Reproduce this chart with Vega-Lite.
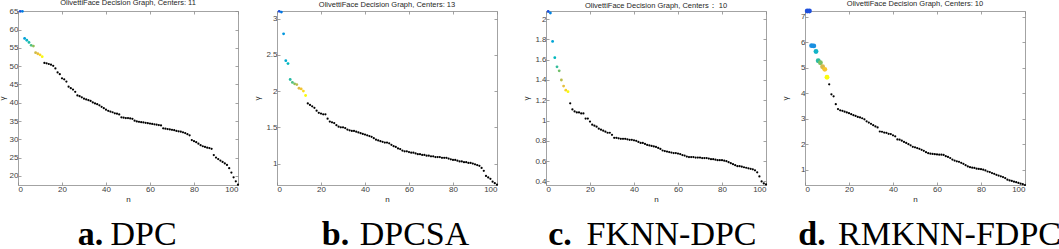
{
"$schema":"https://vega.github.io/schema/vega-lite/v6.json",
"padding":{"left":-2,"top":-2,"right":0,"bottom":0},
"background":"white",
"datasets":{
"a":[{"n":1,"g":65.0,"c":1},{"n":2,"g":65.0,"c":2},{"n":3,"g":57.6,"c":3},{"n":4,"g":57.1,"c":4},{"n":5,"g":56.5,"c":5},{"n":6,"g":55.7,"c":6},{"n":7,"g":55.5,"c":7},{"n":8,"g":53.7,"c":8},{"n":9,"g":53.4,"c":9},{"n":10,"g":53.1,"c":10},{"n":11,"g":52.6,"c":11},
{"n":12,"g":50.9},{"n":13,"g":50.8},{"n":14,"g":50.6},{"n":15,"g":50.4},{"n":16,"g":50.1},{"n":17,"g":49.4},{"n":18,"g":48.3},{"n":19,"g":47.8},{"n":20,"g":46.7},
{"n":21,"g":46.4},{"n":22,"g":45.8},{"n":23,"g":44.4},{"n":24,"g":44.0},{"n":25,"g":43.6},{"n":26,"g":43.0},{"n":27,"g":42.0},{"n":28,"g":41.8},{"n":29,"g":41.5},{"n":30,"g":41.1},
{"n":31,"g":40.9},{"n":32,"g":40.7},{"n":33,"g":40.5},{"n":34,"g":40.1},{"n":35,"g":39.8},{"n":36,"g":39.6},{"n":37,"g":39.3},{"n":38,"g":38.9},{"n":39,"g":38.5},{"n":40,"g":38.1},
{"n":41,"g":37.8},{"n":42,"g":37.6},{"n":43,"g":37.4},{"n":44,"g":37.1},{"n":45,"g":37.0},{"n":46,"g":36.8},{"n":47,"g":36.0},{"n":48,"g":35.9},{"n":49,"g":35.8},{"n":50,"g":35.8},
{"n":51,"g":35.7},{"n":52,"g":35.6},{"n":53,"g":35.1},{"n":54,"g":34.9},{"n":55,"g":34.8},{"n":56,"g":34.7},{"n":57,"g":34.6},{"n":58,"g":34.5},{"n":59,"g":34.4},{"n":60,"g":34.3},
{"n":61,"g":34.2},{"n":62,"g":34.1},{"n":63,"g":34.0},{"n":64,"g":33.9},{"n":65,"g":33.8},{"n":66,"g":33.0},{"n":67,"g":32.9},{"n":68,"g":32.8},{"n":69,"g":32.7},{"n":70,"g":32.6},
{"n":71,"g":32.5},{"n":72,"g":32.3},{"n":73,"g":32.2},{"n":74,"g":32.1},{"n":75,"g":31.9},{"n":76,"g":31.7},{"n":77,"g":31.4},{"n":78,"g":31.1},{"n":79,"g":29.8},{"n":80,"g":29.5},
{"n":81,"g":29.2},{"n":82,"g":28.8},{"n":83,"g":28.4},{"n":84,"g":28.1},{"n":85,"g":27.9},{"n":86,"g":27.7},{"n":87,"g":27.6},{"n":88,"g":27.4},{"n":89,"g":25.7},{"n":90,"g":25.0},
{"n":91,"g":24.6},{"n":92,"g":24.2},{"n":93,"g":23.8},{"n":94,"g":23.4},{"n":95,"g":23.0},{"n":96,"g":22.1},{"n":97,"g":20.9},{"n":98,"g":19.6},{"n":99,"g":18.5},{"n":100,"g":17.6}],
"b":[{"n":1,"g":3.10,"c":1},{"n":2,"g":3.09,"c":2},{"n":3,"g":2.79,"c":3},{"n":4,"g":2.42,"c":4},{"n":5,"g":2.38,"c":5},{"n":6,"g":2.16,"c":6},{"n":7,"g":2.12,"c":7},{"n":8,"g":2.10,"c":8},{"n":9,"g":2.09,"c":9},{"n":10,"g":2.04,"c":10},{"n":11,"g":2.03,"c":11},{"n":12,"g":2.00,"c":12},{"n":13,"g":1.94,"c":13},
{"n":14,"g":1.83},{"n":15,"g":1.81},{"n":16,"g":1.79},{"n":17,"g":1.77},{"n":18,"g":1.73},{"n":19,"g":1.70},{"n":20,"g":1.69},
{"n":21,"g":1.68},{"n":22,"g":1.68},{"n":23,"g":1.62},{"n":24,"g":1.58},{"n":25,"g":1.57},{"n":26,"g":1.56},{"n":27,"g":1.53},{"n":28,"g":1.51},{"n":29,"g":1.50},{"n":30,"g":1.50},
{"n":31,"g":1.49},{"n":32,"g":1.47},{"n":33,"g":1.46},{"n":34,"g":1.45},{"n":35,"g":1.45},{"n":36,"g":1.44},{"n":37,"g":1.43},{"n":38,"g":1.42},{"n":39,"g":1.41},{"n":40,"g":1.40},
{"n":41,"g":1.39},{"n":42,"g":1.38},{"n":43,"g":1.37},{"n":44,"g":1.35},{"n":45,"g":1.33},{"n":46,"g":1.32},{"n":47,"g":1.31},{"n":48,"g":1.30},{"n":49,"g":1.29},{"n":50,"g":1.29},
{"n":51,"g":1.28},{"n":52,"g":1.26},{"n":53,"g":1.24},{"n":54,"g":1.23},{"n":55,"g":1.21},{"n":56,"g":1.20},{"n":57,"g":1.18},{"n":58,"g":1.17},{"n":59,"g":1.17},{"n":60,"g":1.16},
{"n":61,"g":1.15},{"n":62,"g":1.15},{"n":63,"g":1.14},{"n":64,"g":1.13},{"n":65,"g":1.13},{"n":66,"g":1.12},{"n":67,"g":1.12},{"n":68,"g":1.11},{"n":69,"g":1.11},{"n":70,"g":1.10},
{"n":71,"g":1.10},{"n":72,"g":1.09},{"n":73,"g":1.09},{"n":74,"g":1.09},{"n":75,"g":1.08},{"n":76,"g":1.08},{"n":77,"g":1.08},{"n":78,"g":1.07},{"n":79,"g":1.06},{"n":80,"g":1.05},
{"n":81,"g":1.05},{"n":82,"g":1.04},{"n":83,"g":1.03},{"n":84,"g":1.03},{"n":85,"g":1.02},{"n":86,"g":1.02},{"n":87,"g":1.01},{"n":88,"g":1.01},{"n":89,"g":1.00},{"n":90,"g":0.99},
{"n":91,"g":0.98},{"n":92,"g":0.97},{"n":93,"g":0.94},{"n":94,"g":0.90},{"n":95,"g":0.83},{"n":96,"g":0.81},{"n":97,"g":0.79},{"n":98,"g":0.75},{"n":99,"g":0.73},{"n":100,"g":0.71}],
"c":[{"n":1,"g":2.075,"c":1},{"n":2,"g":2.06,"c":2},{"n":3,"g":1.78,"c":3},{"n":4,"g":1.62,"c":4},{"n":5,"g":1.53,"c":5},{"n":6,"g":1.49,"c":6},{"n":7,"g":1.40,"c":7},{"n":8,"g":1.34,"c":8},{"n":9,"g":1.30,"c":9},{"n":10,"g":1.285,"c":10},
{"n":11,"g":1.17},{"n":12,"g":1.11},{"n":13,"g":1.09},{"n":14,"g":1.08},{"n":15,"g":1.08},{"n":16,"g":1.07},{"n":17,"g":1.07},{"n":18,"g":1.02},{"n":19,"g":1.02},{"n":20,"g":0.99},
{"n":21,"g":0.96},{"n":22,"g":0.95},{"n":23,"g":0.94},{"n":24,"g":0.92},{"n":25,"g":0.91},{"n":26,"g":0.90},{"n":27,"g":0.89},{"n":28,"g":0.88},{"n":29,"g":0.88},{"n":30,"g":0.86},
{"n":31,"g":0.83},{"n":32,"g":0.83},{"n":33,"g":0.825},{"n":34,"g":0.82},{"n":35,"g":0.82},{"n":36,"g":0.82},{"n":37,"g":0.815},{"n":38,"g":0.81},{"n":39,"g":0.81},{"n":40,"g":0.805},
{"n":41,"g":0.80},{"n":42,"g":0.79},{"n":43,"g":0.78},{"n":44,"g":0.78},{"n":45,"g":0.77},{"n":46,"g":0.76},{"n":47,"g":0.755},{"n":48,"g":0.75},{"n":49,"g":0.745},{"n":50,"g":0.74},
{"n":51,"g":0.73},{"n":52,"g":0.72},{"n":53,"g":0.705},{"n":54,"g":0.70},{"n":55,"g":0.695},{"n":56,"g":0.69},{"n":57,"g":0.685},{"n":58,"g":0.68},{"n":59,"g":0.68},{"n":60,"g":0.675},
{"n":61,"g":0.67},{"n":62,"g":0.66},{"n":63,"g":0.655},{"n":64,"g":0.645},{"n":65,"g":0.64},{"n":66,"g":0.64},{"n":67,"g":0.64},{"n":68,"g":0.635},{"n":69,"g":0.635},{"n":70,"g":0.635},
{"n":71,"g":0.63},{"n":72,"g":0.63},{"n":73,"g":0.63},{"n":74,"g":0.625},{"n":75,"g":0.62},{"n":76,"g":0.62},{"n":77,"g":0.615},{"n":78,"g":0.61},{"n":79,"g":0.61},{"n":80,"g":0.61},
{"n":81,"g":0.605},{"n":82,"g":0.60},{"n":83,"g":0.59},{"n":84,"g":0.58},{"n":85,"g":0.57},{"n":86,"g":0.56},{"n":87,"g":0.55},{"n":88,"g":0.55},{"n":89,"g":0.545},{"n":90,"g":0.54},
{"n":91,"g":0.535},{"n":92,"g":0.53},{"n":93,"g":0.525},{"n":94,"g":0.52},{"n":95,"g":0.51},{"n":96,"g":0.49},{"n":97,"g":0.45},{"n":98,"g":0.40},{"n":99,"g":0.38},{"n":100,"g":0.37}],
"d":[{"n":1,"g":7.23,"c":1},{"n":2,"g":7.23,"c":1},{"n":3,"g":5.87,"c":2},{"n":4,"g":5.86,"c":2},{"n":5,"g":5.64,"c":3},{"n":6,"g":5.28,"c":4},{"n":7,"g":5.20,"c":5},{"n":8,"g":5.04,"c":6},{"n":9,"g":4.94,"c":7},{"n":10,"g":4.63,"c":8},
{"n":11,"g":4.35},{"n":12,"g":3.96},{"n":13,"g":3.88},{"n":14,"g":3.57},{"n":15,"g":3.38},{"n":16,"g":3.33},{"n":17,"g":3.31},{"n":18,"g":3.28},{"n":19,"g":3.25},{"n":20,"g":3.22},
{"n":21,"g":3.18},{"n":22,"g":3.14},{"n":23,"g":3.11},{"n":24,"g":3.07},{"n":25,"g":3.05},{"n":26,"g":3.02},{"n":27,"g":2.98},{"n":28,"g":2.90},{"n":29,"g":2.85},{"n":30,"g":2.80},
{"n":31,"g":2.75},{"n":32,"g":2.70},{"n":33,"g":2.66},{"n":34,"g":2.50},{"n":35,"g":2.49},{"n":36,"g":2.46},{"n":37,"g":2.45},{"n":38,"g":2.41},{"n":39,"g":2.40},{"n":40,"g":2.35},
{"n":41,"g":2.31},{"n":42,"g":2.19},{"n":43,"g":2.18},{"n":44,"g":2.14},{"n":45,"g":2.09},{"n":46,"g":2.05},{"n":47,"g":2.00},{"n":48,"g":1.96},{"n":49,"g":1.90},{"n":50,"g":1.88},
{"n":51,"g":1.85},{"n":52,"g":1.82},{"n":53,"g":1.78},{"n":54,"g":1.74},{"n":55,"g":1.69},{"n":56,"g":1.65},{"n":57,"g":1.63},{"n":58,"g":1.62},{"n":59,"g":1.61},{"n":60,"g":1.60},
{"n":61,"g":1.59},{"n":62,"g":1.59},{"n":63,"g":1.58},{"n":64,"g":1.53},{"n":65,"g":1.50},{"n":66,"g":1.46},{"n":67,"g":1.40},{"n":68,"g":1.36},{"n":69,"g":1.33},{"n":70,"g":1.31},
{"n":71,"g":1.27},{"n":72,"g":1.23},{"n":73,"g":1.18},{"n":74,"g":1.13},{"n":75,"g":1.10},{"n":76,"g":1.08},{"n":77,"g":1.07},{"n":78,"g":1.04},{"n":79,"g":1.03},{"n":80,"g":1.02},
{"n":81,"g":1.00},{"n":82,"g":0.97},{"n":83,"g":0.93},{"n":84,"g":0.91},{"n":85,"g":0.87},{"n":86,"g":0.84},{"n":87,"g":0.80},{"n":88,"g":0.77},{"n":89,"g":0.74},{"n":90,"g":0.71},
{"n":91,"g":0.67},{"n":92,"g":0.61},{"n":93,"g":0.58},{"n":94,"g":0.56},{"n":95,"g":0.53},{"n":96,"g":0.51},{"n":97,"g":0.48},{"n":98,"g":0.45},{"n":99,"g":0.43},{"n":100,"g":0.40}]
},
"hconcat":[
{"hconcat":[
{"width":220,"height":174,"data":{"name":"a"},
 "title":{"text":"OlivettiFace Decision Graph, Centers: 11","frame":"group","offset":1,"font":"Liberation Sans","fontSize":7.5,"fontWeight":"normal","color":"#262626"},
 "layer":[
  {"transform":[{"filter":"datum.c == null"}],"mark":{"type":"circle","size":5,"color":"black","opacity":1},
   "encoding":{"x":{"field":"n","type":"quantitative","scale":{"domain":[0,100],"nice":false},"axis":{"values":[0,20,40,60,80,100],"title":"n","format":"d"}},
   "y":{"field":"g","type":"quantitative","scale":{"domain":[17.5,65.1],"nice":false,"zero":false},"axis":{"values":[20,25,30,35,40,45,50,55,60,65],"title":"γ","format":"d","minExtent":12,"titlePadding":0}}}},
  {"transform":[{"filter":"datum.c != null"}],"mark":{"type":"circle","size":8,"opacity":1},
   "encoding":{"x":{"field":"n","type":"quantitative","axis":{"orient":"top","labels":false,"values":[0,20,40,60,80,100],"title":"a.","titleX":72,"titleY":233,"titleAngle":0,"titleAlign":"center","titleBaseline":"alphabetic","titleFont":"Liberation Serif","titleFontSize":34,"titleFontWeight":"bold","titleColor":"black"}},
   "y":{"field":"g","type":"quantitative","axis":{"orient":"right","labels":false,"values":[20,25,30,35,40,45,50,55,60,65],"title":"DPC","titleX":-95,"titleY":233,"titleAngle":0,"titleAlign":"center","titleBaseline":"alphabetic","titleFont":"Liberation Serif","titleFontSize":34,"titleFontWeight":"normal","titleColor":"black"}},
   "color":{"field":"c","type":"quantitative","scale":{"domain":[1,11],"range":["#1e50dc","#1a8fe0","#12b4c8","#2bbba0","#7bc063","#d7b84a","#f8c52c","#f9fb0e"]},"legend":null}}}
 ],
 "resolve":{"axis":{"x":"independent","y":"independent"}}},
{"width":220,"height":174,"data":{"name":"b"},
 "title":{"text":"OlivettiFace Decision Graph, Centers: 13","frame":"group","offset":1,"font":"Liberation Sans","fontSize":7.5,"fontWeight":"normal","color":"#262626"},
 "layer":[
  {"transform":[{"filter":"datum.c == null"}],"mark":{"type":"circle","size":5,"color":"black","opacity":1},
   "encoding":{"x":{"field":"n","type":"quantitative","scale":{"domain":[0,100],"nice":false},"axis":{"values":[0,20,40,60,80,100],"title":"n","format":"d"}},
   "y":{"field":"g","type":"quantitative","scale":{"domain":[0.705,3.105],"nice":false,"zero":false},"axis":{"values":[1,1.5,2,2.5,3],"title":"γ","format":"~g","minExtent":14}}}},
  {"transform":[{"filter":"datum.c != null"}],"mark":{"type":"circle","size":8,"opacity":1},
   "encoding":{"x":{"field":"n","type":"quantitative","axis":{"orient":"top","labels":false,"values":[0,20,40,60,80,100],"title":"b.","titleX":58,"titleY":233,"titleAngle":0,"titleAlign":"center","titleBaseline":"alphabetic","titleFont":"Liberation Serif","titleFontSize":34,"titleFontWeight":"bold","titleColor":"black"}},
   "y":{"field":"g","type":"quantitative","axis":{"orient":"right","labels":false,"values":[1,1.5,2,2.5,3],"title":"DPCSA","titleX":-83,"titleY":233,"titleAngle":0,"titleAlign":"center","titleBaseline":"alphabetic","titleFont":"Liberation Serif","titleFontSize":34,"titleFontWeight":"normal","titleColor":"black"}},
   "color":{"field":"c","type":"quantitative","scale":{"domain":[1,13],"range":["#1e50dc","#1a8fe0","#12b4c8","#2bbba0","#7bc063","#d7b84a","#f8c52c","#f9fb0e"]},"legend":null}}}
 ],
 "resolve":{"axis":{"x":"independent","y":"independent"}}}
],"spacing":13,"resolve":{"scale":{"x":"independent","y":"independent","color":"independent"}}},
{"hconcat":[
{"width":220,"height":174,"data":{"name":"c"},
 "title":{"text":"OlivettiFace Decision Graph, Centers：  10","frame":"group","offset":1,"font":"Liberation Sans","fontSize":7.5,"fontWeight":"normal","color":"#262626"},
 "layer":[
  {"transform":[{"filter":"datum.c == null"}],"mark":{"type":"circle","size":5,"color":"black","opacity":1},
   "encoding":{"x":{"field":"n","type":"quantitative","scale":{"domain":[0,100],"nice":false},"axis":{"values":[0,20,40,60,80,100],"title":"n","format":"d"}},
   "y":{"field":"g","type":"quantitative","scale":{"domain":[0.365,2.08],"nice":false,"zero":false},"axis":{"values":[0.4,0.6,0.8,1,1.2,1.4,1.6,1.8,2],"title":"γ","format":"~g","minExtent":14}}}},
  {"transform":[{"filter":"datum.c != null"}],"mark":{"type":"circle","size":8,"opacity":1},
   "encoding":{"x":{"field":"n","type":"quantitative","axis":{"orient":"top","labels":false,"values":[0,20,40,60,80,100],"title":"c.","titleX":13.5,"titleY":233,"titleAngle":0,"titleAlign":"center","titleBaseline":"alphabetic","titleFont":"Liberation Serif","titleFontSize":34,"titleFontWeight":"bold","titleColor":"black"}},
   "y":{"field":"g","type":"quantitative","axis":{"orient":"right","labels":false,"values":[0.4,0.6,0.8,1,1.2,1.4,1.6,1.8,2],"title":"FKNN-DPC","titleX":-95,"titleY":233,"titleAngle":0,"titleAlign":"center","titleBaseline":"alphabetic","titleFont":"Liberation Serif","titleFontSize":34,"titleFontWeight":"normal","titleColor":"black"}},
   "color":{"field":"c","type":"quantitative","scale":{"domain":[1,10],"range":["#1e50dc","#1a8fe0","#12b4c8","#2bbba0","#7bc063","#d7b84a","#f8c52c","#f9fb0e"]},"legend":null}}}
 ],
 "resolve":{"axis":{"x":"independent","y":"independent"}}},
{"width":220,"height":174,"data":{"name":"d"},
 "title":{"text":"OlivettiFace Decision Graph, Centers: 10","frame":"group","offset":1,"font":"Liberation Sans","fontSize":7.5,"fontWeight":"normal","color":"#262626"},
 "layer":[
  {"transform":[{"filter":"datum.c == null"}],"mark":{"type":"circle","size":5,"color":"black","opacity":1},
   "encoding":{"x":{"field":"n","type":"quantitative","scale":{"domain":[0,100],"nice":false},"axis":{"values":[0,20,40,60,80,100],"title":"n","format":"d"}},
   "y":{"field":"g","type":"quantitative","scale":{"domain":[0.4,7.23],"nice":false,"zero":false},"axis":{"values":[1,2,3,4,5,6,7],"title":"γ","format":"d","minExtent":14}}}},
  {"transform":[{"filter":"datum.c != null"}],"mark":{"type":"circle","size":24,"opacity":1},
   "encoding":{"x":{"field":"n","type":"quantitative","axis":{"orient":"top","labels":false,"values":[0,20,40,60,80,100],"title":"d.","titleX":6.5,"titleY":233,"titleAngle":0,"titleAlign":"center","titleBaseline":"alphabetic","titleFont":"Liberation Serif","titleFontSize":34,"titleFontWeight":"bold","titleColor":"black"}},
   "y":{"field":"g","type":"quantitative","axis":{"orient":"right","labels":false,"values":[1,2,3,4,5,6,7],"title":"RMKNN-FDPC","titleX":-76,"titleY":233,"titleAngle":0,"titleAlign":"center","titleBaseline":"alphabetic","titleFont":"Liberation Serif","titleFontSize":34,"titleFontWeight":"normal","titleColor":"black"}},
   "color":{"field":"c","type":"quantitative","scale":{"domain":[1,8],"range":["#1e50dc","#1a8fe0","#12b4c8","#2bbba0","#7bc063","#d7b84a","#f8c52c","#f9fb0e"]},"legend":null}}}
 ],
 "resolve":{"axis":{"x":"independent","y":"independent"}}}
],"spacing":13,"resolve":{"scale":{"x":"independent","y":"independent","color":"independent"}}}
],
"spacing":23,
"resolve":{"scale":{"x":"independent","y":"independent","color":"independent"}},
"config":{
 "view":{"stroke":null},
 "font":"Liberation Sans",
 "axis":{"domainColor":"#8c8c8c","tickColor":"#8c8c8c","tickSize":-3,"domainWidth":0.8,"tickWidth":0.8,"grid":false,
  "labelColor":"#404040","labelFontSize":8,"labelFont":"Liberation Sans","labelPadding":3,
  "titleColor":"#262626","titleFontSize":8,"titleFont":"Liberation Sans","titleFontWeight":"normal","titlePadding":2}
}
}
